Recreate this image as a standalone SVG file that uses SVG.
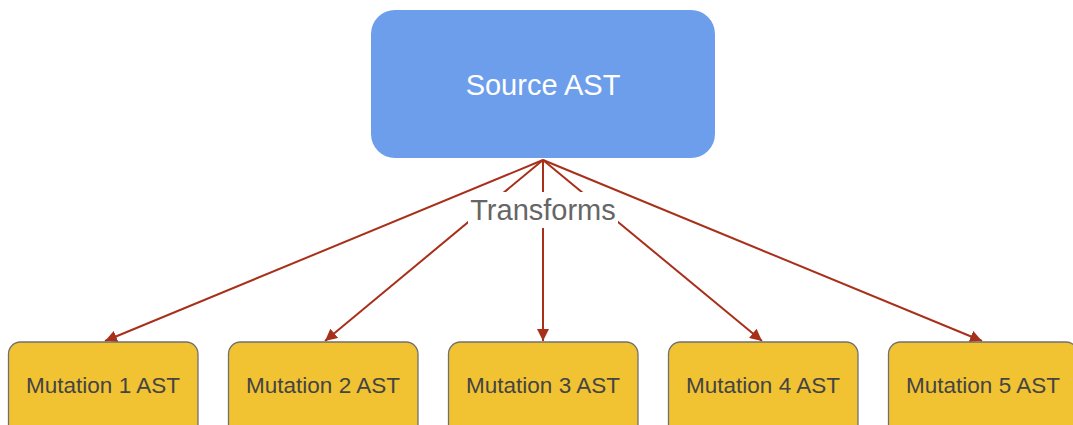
<svg xmlns="http://www.w3.org/2000/svg" width="1073" height="425" viewBox="0 0 1073 425">
  <style>
    .mut rect { fill: #f1c232; stroke: #707070; stroke-width: 1.3; }
    .mut text { font-family: "Liberation Sans", Arial, sans-serif; font-size: 22.5px; fill: #444444; text-anchor: middle; }
    .src rect { fill: #6d9eeb; }
    .src text { font-family: "Liberation Sans", Arial, sans-serif; font-size: 29px; fill: #ffffff; text-anchor: middle; }
    .conn line { stroke: #a8301a; stroke-width: 2; fill: none; marker-end: url(#ah); }
    .lbl { font-family: "Liberation Sans", Arial, sans-serif; font-size: 29px; fill: #666666; text-anchor: middle; }
  </style>
  <defs>
    <marker id="ah" viewBox="0 0 10 10" refX="10" refY="5" markerWidth="6" markerHeight="6" markerUnits="strokeWidth" orient="auto">
      <path d="M0,0 L10,5 L0,10 z" fill="#a8301a"/>
    </marker>
  </defs>
  <rect width="1073" height="425" fill="#ffffff"/>
  <g id="connectors" class="conn">
    <line x1="543" y1="160" x2="105" y2="341"/>
    <line x1="543" y1="160" x2="325" y2="341"/>
    <line x1="543" y1="160" x2="543" y2="341"/>
    <line x1="543" y1="160" x2="762" y2="341"/>
    <line x1="543" y1="160" x2="982" y2="341"/>
  </g>
  <g id="label-transforms">
    <rect x="468" y="192" width="150" height="36" fill="#ffffff"/>
    <text class="lbl" x="543" y="220">Transforms</text>
  </g>
  <g id="source" class="src">
    <rect x="371" y="10" width="344" height="148" rx="24" ry="24"/>
    <text x="543" y="95">Source AST</text>
  </g>
  <g id="mutation1" class="mut">
    <rect x="8.5" y="342" width="189.5" height="100" rx="12" ry="12"/>
    <text x="103" y="393">Mutation 1 AST</text>
  </g>
  <g id="mutation2" class="mut">
    <rect x="228.5" y="342" width="189.5" height="100" rx="12" ry="12"/>
    <text x="323" y="393">Mutation 2 AST</text>
  </g>
  <g id="mutation3" class="mut">
    <rect x="448.5" y="342" width="189.5" height="100" rx="12" ry="12"/>
    <text x="543" y="393">Mutation 3 AST</text>
  </g>
  <g id="mutation4" class="mut">
    <rect x="668.5" y="342" width="189.5" height="100" rx="12" ry="12"/>
    <text x="763" y="393">Mutation 4 AST</text>
  </g>
  <g id="mutation5" class="mut">
    <rect x="888.5" y="342" width="189.5" height="100" rx="12" ry="12"/>
    <text x="983" y="393">Mutation 5 AST</text>
  </g>
</svg>
